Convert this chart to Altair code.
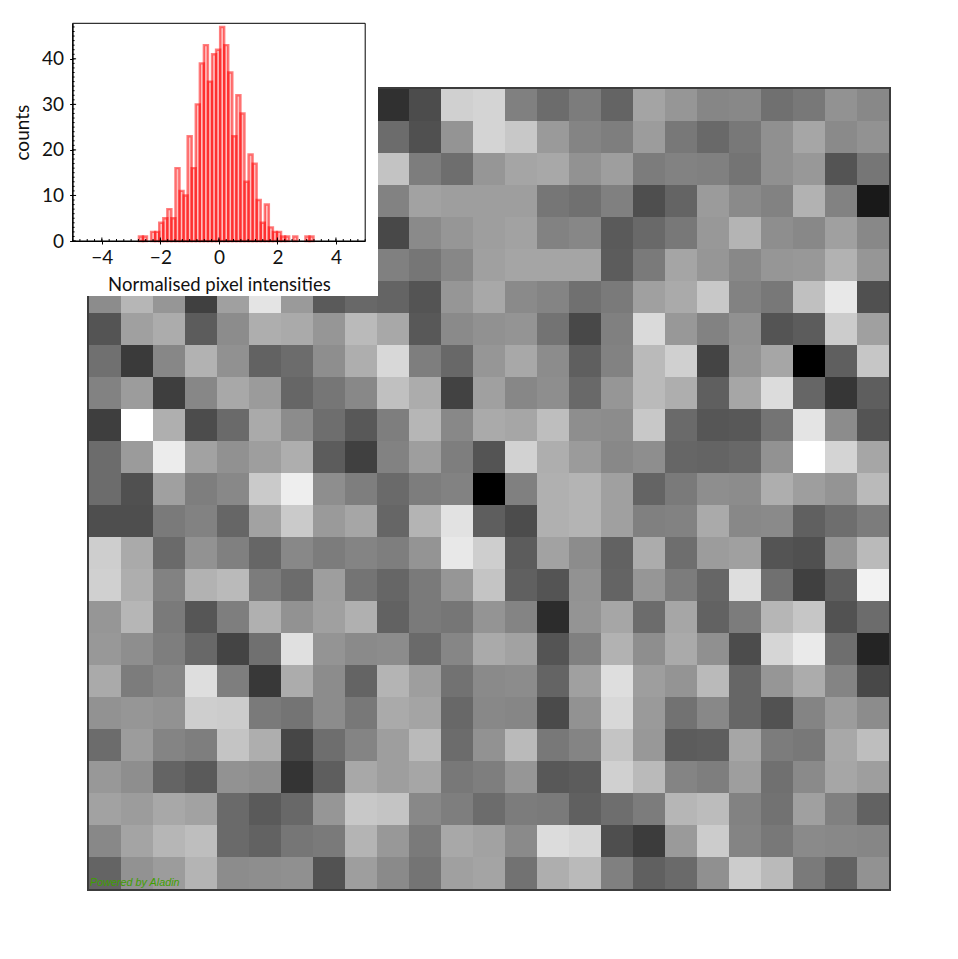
import altair as alt
import pandas as pd

# ---------- histogram data ----------
counts = [1,1,0,2,2,4,5,7,5,16,11,10,23,16,30,39,43,35,41,42,47,43,37,23,32,28,13,19,17,9,4,8,3,2,2,1,1,0,1,0,0,1,1]
bin_left = -2.734
bin_width = 0.1388
x_major = [-4, -2, 0, 2, 4]
y_major = [0, 10, 20, 30, 40]
x_minor = [v * 0.25 for v in range(-20, 21)]
y_minor = list(range(0, 48))

# ---------- heatmap data (grey levels), first visible column given per block ----------
rows_top = [  # rows 0-5, columns 9-24 (the rest is hidden by the inset)
 [48,76,208,212,128,108,124,100,164,150,134,136,112,120,146,136],
 [108,80,148,212,200,154,132,126,156,120,105,120,144,166,138,146],
 [195,125,110,150,165,168,146,158,124,130,128,116,144,152,84,118],
 [130,162,158,158,158,118,112,128,78,100,155,138,130,178,130,25],
 [72,138,150,158,162,130,135,90,105,120,152,180,142,136,160,136],
 [128,118,135,160,165,165,165,92,122,165,150,136,150,152,178,150],
]
rows_bottom = [  # rows 6-24, all 25 columns
 [140,182,150,64,160,228,154,90,104,100,84,150,168,138,132,112,122,160,170,200,130,120,192,232,80],
 [84,160,172,92,140,174,170,150,186,168,88,138,145,148,115,72,128,218,152,130,145,84,92,204,160],
 [112,58,135,178,145,98,108,142,174,216,126,104,150,168,140,95,130,186,208,68,148,166,0,95,198],
 [130,156,62,135,168,155,102,118,136,192,172,66,160,135,142,105,150,186,174,95,166,220,102,54,94],
 [62,255,175,76,106,170,140,110,88,126,182,136,170,166,190,142,140,200,106,86,88,116,228,140,84],
 [108,155,236,162,145,158,174,92,64,130,158,126,84,210,174,155,136,142,102,100,104,146,255,212,166],
 [108,80,160,126,136,202,238,142,126,106,125,130,0,128,176,180,160,100,122,142,140,174,158,148,186],
 [78,78,122,130,102,162,202,154,166,102,180,226,94,76,176,180,160,128,130,170,136,138,96,110,124],
 [206,170,106,146,128,102,136,124,132,126,148,232,206,92,162,140,98,172,110,156,160,84,80,148,186],
 [208,174,130,178,186,124,108,158,116,102,122,150,196,96,84,146,100,150,124,102,222,112,64,94,242],
 [150,182,122,86,126,176,146,160,176,98,122,118,148,132,44,148,166,108,166,98,124,182,198,82,108],
 [152,142,126,104,68,112,224,148,138,140,106,134,170,162,84,128,178,142,170,144,76,214,234,110,36],
 [170,124,134,222,126,56,172,140,100,180,158,114,138,140,100,160,222,158,148,186,102,150,172,132,72],
 [146,150,146,206,204,122,116,140,120,170,164,104,136,134,74,146,216,154,114,136,102,82,132,156,140],
 [108,156,132,126,196,174,70,110,132,158,186,108,146,186,120,132,196,152,92,94,166,124,120,168,190],
 [152,142,100,90,146,142,52,94,168,158,166,120,126,150,88,92,208,186,132,126,158,112,138,166,158],
 [162,156,168,162,106,90,104,150,200,196,136,126,108,124,122,96,110,124,182,188,130,114,160,128,98],
 [136,164,182,190,106,98,118,122,180,152,122,168,162,138,220,214,78,60,154,204,132,120,138,136,134],
 [100,146,156,180,140,142,144,82,158,138,116,160,164,114,174,186,128,96,106,144,204,186,122,98,146],
]

# ---------- tables ----------
cells = []
for r, vals in enumerate(rows_top):
    for c, v in enumerate(vals):
        cells.append({"c": c + 9, "c2": c + 10, "r": r, "r2": r + 1, "v": v})
for r, vals in enumerate(rows_bottom):
    for c, v in enumerate(vals):
        cells.append({"c": c, "c2": c + 1, "r": r + 6, "r2": r + 7, "v": v})
cells = pd.DataFrame(cells)

bars = pd.DataFrame([
    {"a": bin_left + i * bin_width, "b": bin_left + (i + 1) * bin_width, "n": n}
    for i, n in enumerate(counts) if n > 0
])

# ---------- layout constants (plot pixels = image pixels - 8) ----------
W, H = 942, 943
FONT = "Lato"
hx = alt.Scale(domain=[-5, 5], range=[64.6, 357.2])
hy = alt.Scale(domain=[0, 47.8], range=[233, 15.3])
mx = alt.Scale(domain=[0, 25], range=[81, 881])
my = alt.Scale(domain=[0, 25], range=[81, 881])
one = pd.DataFrame({"t": ["Powered by Aladin"]})

heat = alt.Chart(cells).mark_rect(strokeWidth=0).encode(
    x=alt.X("c:Q", scale=mx, axis=None), x2="c2:Q",
    y=alt.Y("r:Q", scale=my, axis=None), y2="r2:Q",
    color=alt.Color("v:Q", scale=alt.Scale(domain=[0, 255], range=["#000000", "#ffffff"], interpolate="rgb"), legend=None),
)
frame = alt.Chart(one).mark_rect(fill=None, stroke="#3c3c3c", strokeWidth=2).encode(
    x=alt.value(80), x2=alt.value(882), y=alt.value(80), y2=alt.value(882))
credit = alt.Chart(one).mark_text(
    align="left", baseline="alphabetic", font="Liberation Sans", fontStyle="italic",
    fontSize=10.8, color="#3f9f00").encode(
    text="t:N", x=alt.value(82), y=alt.value(878))
white = alt.Chart(one).mark_rect(fill="white", strokeWidth=0).encode(
    x=alt.value(0), x2=alt.value(370), y=alt.value(0), y2=alt.value(288))
hist = alt.Chart(bars).mark_bar(
    fill="#ff0000", fillOpacity=0.25, stroke="#ff0000", strokeOpacity=0.5, strokeWidth=2.4
).encode(
    x=alt.X("a:Q", scale=hx,
            axis=alt.Axis(orient="bottom", offset=233 - H, values=x_major, format="d", title="Normalised pixel intensities",
                          grid=False, tickSize=3, tickColor="black", domainColor="black", domainWidth=1, zindex=1,
                          labelFont=FONT, labelFontSize=19, labelColor="#111111", labelPadding=4,
                          titleFont=FONT, titleFontSize=18.5, titleFontWeight="normal", titleColor="#111111", titlePadding=8)),
    x2="b:Q",
    y=alt.Y("n:Q", scale=hy,
            axis=alt.Axis(orient="left", offset=-64.6, values=y_major, format="d", title="counts",
                          grid=False, tickSize=3, tickColor="black", domainColor="black", domainWidth=1, zindex=1,
                          labelFont=FONT, labelFontSize=19, labelColor="#111111", labelPadding=6,
                          titleFont=FONT, titleFontSize=19, titleFontWeight="normal", titleColor="#111111", titlePadding=9)),
    y2=alt.Y2(datum=0),
)
box = alt.Chart(one).mark_rect(fill=None, stroke="black", strokeWidth=1).encode(
    x=alt.value(64.6), x2=alt.value(357.2), y=alt.value(15.3), y2=alt.value(233))

def xticks(vals, length):
    d = pd.DataFrame({"p": vals})
    return alt.Chart(d).mark_rule(color="black", strokeWidth=1).encode(
        x=alt.X("p:Q", scale=hx, axis=None), y=alt.value(233 - length), y2=alt.value(233))

def yticks(vals, length):
    d = pd.DataFrame({"p": vals})
    return alt.Chart(d).mark_rule(color="black", strokeWidth=1).encode(
        y=alt.Y("p:Q", scale=hy, axis=None), x=alt.value(64.6), x2=alt.value(64.6 + length))

chart = alt.layer(
    heat, frame, credit, white, hist, box,
    xticks(x_minor, 2), xticks(x_major, 3.5),
    yticks(y_minor, 2), yticks(y_major, 3.5),
).resolve_scale(x="independent", y="independent", color="independent").resolve_axis(
    x="independent", y="independent"
).properties(width=W, height=H, padding=0).configure_view(stroke=None)

chart.save("out.html", embed_options={"renderer": "svg", "actions": False})
